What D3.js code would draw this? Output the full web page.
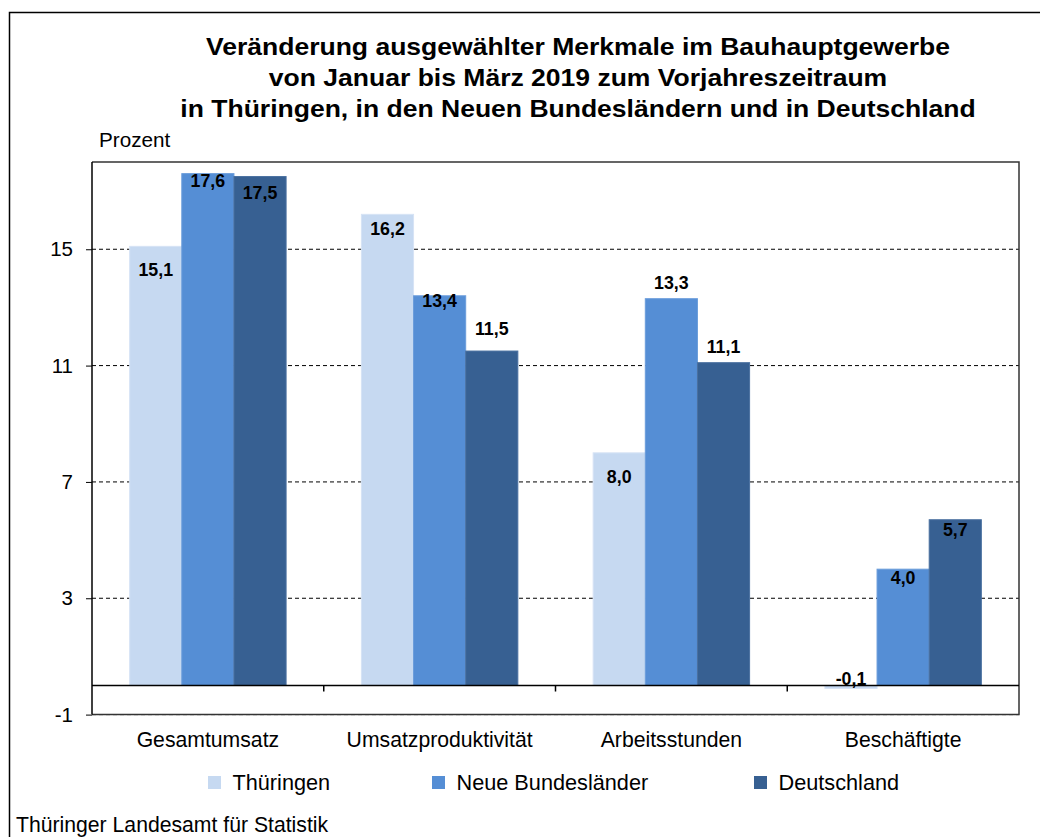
<!DOCTYPE html>
<html><head><meta charset="utf-8">
<script src="https://cdn.jsdelivr.net/npm/d3@7"></script>
<style>
html,body{margin:0;padding:0;background:#fff;}
svg{display:block;font-family:Arial,"Liberation Sans",sans-serif;}
</style></head>
<body>
<svg id="chart" width="1040" height="837"></svg>
<script>
// ---- data ----
const categories = ["Gesamtumsatz", "Umsatzproduktivität", "Arbeitsstunden", "Beschäftigte"];
const seriesNames = ["Thüringen", "Neue Bundesländer", "Deutschland"];
const thueringen = [15.1, 16.2, 8.0, -0.1];
const neueLaender = [17.6, 13.4, 13.3, 4.0];
const deutschland = [17.5, 11.5, 11.1, 5.7];
const yTicks = [-1, 3, 7, 11, 15];
const titleLines = [
  "Veränderung ausgewählter Merkmale im Bauhauptgewerbe",
  "von Januar bis März 2019 zum Vorjahreszeitraum",
  "in Thüringen, in den Neuen Bundesländern und in Deutschland"
];

// ---- layout / style ----
const colors = ["#C6D9F1", "#558ED5", "#376092"];
const strokes = ["#D6E3F5", "#6A9CDB", "#4A70A0"];
// label baseline offsets (px) from bar top, per series
const labelDy = [[30, 21, 30, -0.5], [13, 11.5, -9.5, 14.5], [22.5, -16, -9.3, 16.7]];

const seriesValues = [thueringen, neueLaender, deutschland];
const svg = d3.select("#chart");
const L = 92, R = 1019, T = 162, B = 714.6;

const y = d3.scaleLinear().domain([-1, 18]).range([B, T]);
const x0 = d3.scaleBand().domain(categories).range([L, R]).padding(0);
const groupW = x0.bandwidth() * 0.675;
const x1 = d3.scaleBand().domain(seriesNames).range([0, groupW]).padding(0);
const fmt = v => d3.format(".1f")(v).replace(".", ",").replace("−", "-");

// outer frame
svg.append("rect").attr("x", 9.5).attr("y", 12.5).attr("width", 1060).attr("height", 900)
  .attr("fill", "none").attr("stroke", "#000").attr("stroke-width", 1.5);

// title
svg.append("g").attr("transform", "translate(578,0) scale(1.105,1)")
  .selectAll("text").data(titleLines).join("text")
  .attr("x", 0).attr("y", (d, i) => 55 + i * 31)
  .attr("text-anchor", "middle").attr("font-size", 24).attr("font-weight", "bold").attr("fill", "#000")
  .text(d => d);

svg.append("text").attr("x", 99).attr("y", 147).attr("font-size", 20.7).text("Prozent");

// gridlines
svg.append("g").selectAll("line").data(yTicks).join("line")
  .attr("x1", L).attr("x2", R).attr("y1", d => y(d)).attr("y2", d => y(d))
  .attr("stroke", "#000").attr("stroke-width", 1).attr("stroke-dasharray", "4,3");

// plot border (top, right, bottom)
svg.append("path").attr("d", `M${L},${T}H${R}V${B}H${L}`)
  .attr("fill", "none").attr("stroke", "#333").attr("stroke-width", 1.5);

// bars
const groups = svg.append("g").selectAll("g").data(seriesNames).join("g");
groups.each(function(s, si) {
  const g = d3.select(this);
  const vals = seriesValues[si];
  g.selectAll("rect").data(vals).join("rect")
    .attr("x", (v, ci) => x0(categories[ci]) + (x0.bandwidth() - groupW) / 2 + x1(s))
    .attr("width", x1.bandwidth())
    .attr("y", v => y(Math.max(v, 0)))
    .attr("height", v => Math.abs(y(v) - y(0)))
    .attr("fill", colors[si]).attr("stroke", strokes[si]).attr("stroke-width", 1);
});

// y axis
const yAxis = d3.axisLeft(y).tickValues(yTicks).tickSize(6).tickPadding(13).tickFormat(d => String(d));
const ya = svg.append("g").attr("transform", `translate(${L},0)`).call(yAxis);
ya.select(".domain").remove();
ya.selectAll("line").attr("stroke", "#000");
ya.selectAll("text").attr("font-size", 20.5).attr("fill", "#000").attr("font-family", "Arial, 'Liberation Sans', sans-serif");
svg.append("line").attr("x1", L).attr("x2", L).attr("y1", T).attr("y2", B)
  .attr("stroke", "#000").attr("stroke-width", 1.5);

// zero line with category ticks
svg.append("line").attr("x1", L).attr("x2", R).attr("y1", y(0)).attr("y2", y(0))
  .attr("stroke", "#000").attr("stroke-width", 1.5);
svg.append("g").selectAll("line").data(categories.slice(1)).join("line")
  .attr("x1", d => x0(d)).attr("x2", d => x0(d)).attr("y1", y(0)).attr("y2", y(0) + 6)
  .attr("stroke", "#000").attr("stroke-width", 1.5);

// category labels
svg.append("g").selectAll("text").data(categories).join("text")
  .attr("x", d => x0(d) + x0.bandwidth() / 2).attr("y", 747)
  .attr("text-anchor", "middle").attr("font-size", 21.2).attr("fill", "#000").text(d => d);

// value labels
groups.each(function(s, si) {
  const g = d3.select(this);
  const vals = seriesValues[si];
  g.selectAll("text").data(vals).join("text")
    .attr("x", (v, ci) => x0(categories[ci]) + (x0.bandwidth() - groupW) / 2 + x1(s) + x1.bandwidth() / 2)
    .attr("y", (v, ci) => y(Math.max(v, 0)) + labelDy[si][ci])
    .attr("text-anchor", "middle").attr("font-size", 17.8).attr("font-weight", "bold").attr("fill", "#000")
    .text(v => fmt(v));
});

// legend
const legendX = [208, 432, 754];
const lg = svg.append("g").selectAll("g").data(seriesNames).join("g")
  .attr("transform", (d, i) => `translate(${legendX[i]},0)`);
lg.append("rect").attr("x", 0).attr("y", 776).attr("width", 13).attr("height", 13)
  .attr("fill", (d, i) => colors[i]);
lg.append("text").attr("x", 24.5).attr("y", 790).attr("font-size", 21.7).attr("fill", "#000").text(d => d);

// footer
svg.append("text").attr("x", 16).attr("y", 832).attr("font-size", 21.2).attr("fill", "#000")
  .text("Thüringer Landesamt für Statistik");
</script>
</body></html>
